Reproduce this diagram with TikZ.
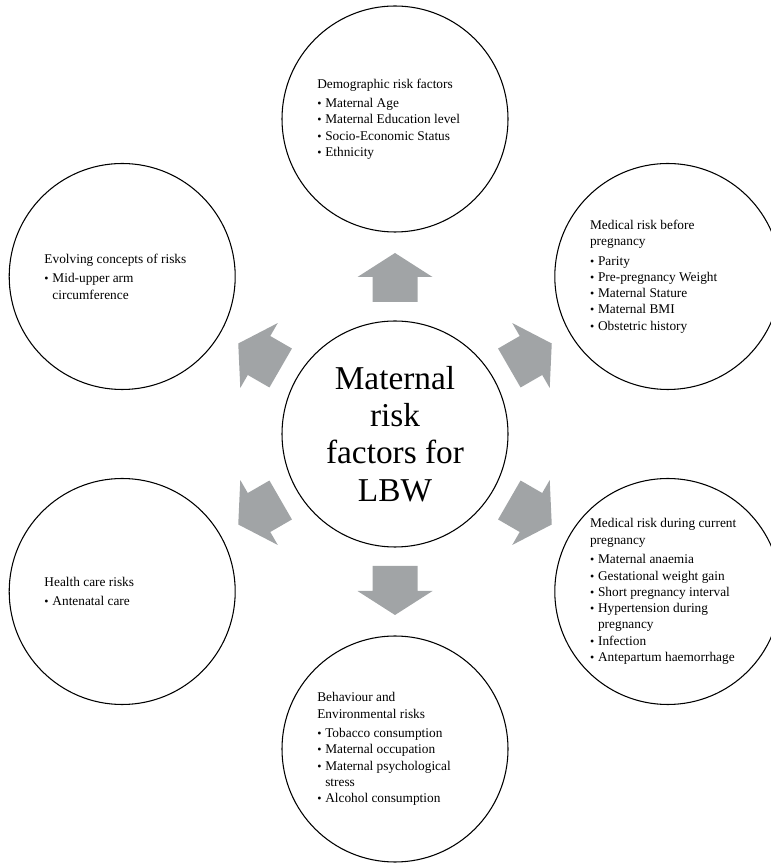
\documentclass[tikz,border=0pt]{standalone}
\usepackage{fontspec}
\setmainfont{Liberation Serif}
\usetikzlibrary{calc}
\definecolor{arrowgray}{RGB}{161,164,166}
\newcommand{\itm}{\makebox[6pt][l]{\small\textbullet}}
\newcommand{\cnt}{\hspace*{6pt}}
\tikzset{
  risk/.style={circle, draw, line width=0.8pt, minimum size=169.5pt, inner sep=0pt},
  risktext/.style={anchor=west, align=left, inner sep=0pt, font=\fontsize{10}{12.2}\selectfont},
}

\begin{document}
\begin{tikzpicture}[x=0.75pt, y=0.75pt]
      \useasboundingbox (0,0) rectangle (771,864);
      \node[risk] (lbw) at (395,430) {};
      \node[align=center, font=\fontsize{25}{28}\selectfont] (lbwtext) at (lbw) {Maternal\\risk\\factors for\\LBW};
      % the six groups of risks
      \node[risk] (demo) at ($(lbw)+(90:315)$) {};
      \node[risktext] (demotext) at ($(demo)+(-78,0)$) {Demographic risk factors\\[2.5pt]
        \itm Maternal Age\\ \itm Maternal Education level\\ \itm Socio-Economic Status\\ \itm Ethnicity};
      \node[risk] (before) at ($(lbw)+(30:315)$) {};
      \node[risktext] (beforetext) at ($(before)+(-78,0)$) {Medical risk before\\pregnancy\\[2.5pt]
        \itm Parity\\ \itm Pre-pregnancy Weight\\ \itm Maternal Stature\\ \itm Maternal BMI\\ \itm Obstetric history};
      \node[risk] (during) at ($(lbw)+(-30:315)$) {};
      \node[risktext] (duringtext) at ($(during)+(-78,0)$) {Medical risk during current\\pregnancy\\[2.5pt]
        \itm Maternal anaemia\\ \itm Gestational weight gain\\ \itm Short pregnancy interval\\
        \itm Hypertension during\\ \cnt pregnancy\\ \itm Infection\\ \itm Antepartum haemorrhage};
      \node[risk] (behav) at ($(lbw)+(-90:315)$) {};
      \node[risktext] (behavtext) at ($(behav)+(-78,0)$) {Behaviour and\\Environmental risks\\[2.5pt]
        \itm Tobacco consumption\\ \itm Maternal occupation\\ \itm Maternal psychological\\ \cnt stress\\ \itm Alcohol consumption};
      \node[risk] (health) at ($(lbw)+(-150:315)$) {};
      \node[risktext] (healthtext) at ($(health)+(-78,0)$) {Health care risks\\[2.5pt] \itm Antenatal care};
      \node[risk] (evolve) at ($(lbw)+(150:315)$) {};
      \node[risktext] (evolvetext) at ($(evolve)+(-78,0)$) {Evolving concepts of risks\\[2.5pt]
        \itm Mid-upper arm\\ \cnt circumference};
      % block arrows out of the centre
      \foreach \a in {90,30,-30,-90,-150,150}
        \fill[arrowgray, shift={(lbw)}, rotate=\a] (132,-22.5) -- (157,-22.5) -- (157,-37.5) -- (181,0)
          -- (157,37.5) -- (157,22.5) -- (132,22.5) -- cycle;
\end{tikzpicture}
\end{document}
